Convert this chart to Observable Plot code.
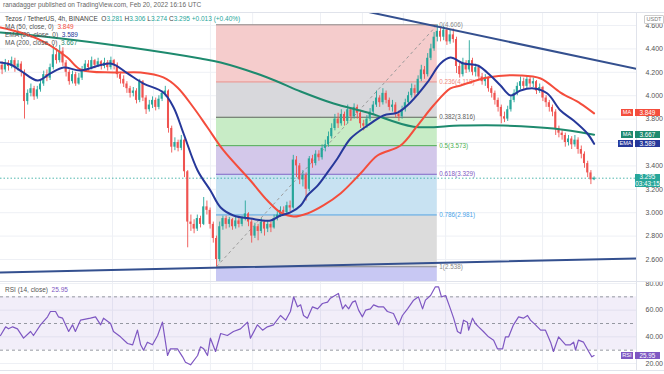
<!DOCTYPE html>
<html><head><meta charset="utf-8">
<script src="https://cdn.jsdelivr.net/npm/d3@7"></script>
<script src="https://cdn.jsdelivr.net/npm/@observablehq/plot@0.6"></script>
<style>
body{margin:0;background:#fff;font-family:"Liberation Sans",Arial,sans-serif;}
#wrap{position:relative;width:664px;height:374px;overflow:hidden;background:#fff;}
.t{position:absolute;white-space:nowrap;font-size:6.5px;line-height:8px;color:#555;}
.b{position:absolute;color:#fff;font-size:6.3px;text-align:center;line-height:7px;height:7px;white-space:nowrap;overflow:hidden;}
.pane{position:absolute;left:0;}
</style></head><body><div id="wrap"></div>
<script>
// ---------- data ----------
const firstOpen = 4.26;
const closes = [4.22,4.28,4.25,4.30,4.24,4.27,4.20,3.95,4.02,4.06,
3.99,4.05,4.10,4.18,4.15,4.24,4.35,4.30,4.38,4.28,
4.20,4.12,4.18,4.10,4.15,4.22,4.27,4.24,4.30,4.26,
4.29,4.25,4.28,4.24,4.30,4.26,4.18,4.14,4.10,4.06,
4.02,4.04,3.96,4.12,3.98,3.88,3.92,3.96,3.90,3.97,
4.02,4.04,3.72,3.56,3.60,3.55,3.62,3.35,2.92,2.90,
2.86,2.95,2.90,3.05,3.02,2.90,2.78,2.60,2.88,2.95,
2.90,2.94,2.88,2.93,2.90,2.95,2.99,2.92,2.80,2.88,
2.84,2.92,2.86,2.90,2.87,2.95,2.98,3.02,3.00,3.06,
3.04,3.45,3.40,3.28,3.32,3.20,3.46,3.42,3.50,3.47,
3.55,3.58,3.65,3.72,3.80,3.76,3.84,3.78,3.88,3.82,
3.90,3.85,3.76,3.74,3.80,3.86,3.92,3.98,3.94,4.02,
3.96,3.90,3.92,3.84,3.82,3.88,3.94,4.00,4.06,4.02,
4.14,4.22,4.18,4.32,4.40,4.50,4.55,4.50,4.56,4.46,
4.52,4.48,4.25,4.18,4.28,4.22,4.30,4.20,4.24,4.16,
4.12,4.15,4.06,4.02,3.96,3.90,3.82,3.80,3.88,3.96,
4.02,4.08,4.12,4.08,4.14,4.10,4.12,4.04,4.07,3.98,
3.94,3.90,3.86,3.72,3.68,3.66,3.60,3.63,3.58,3.62,
3.54,3.50,3.42,3.34,3.281,3.295];
const highs = [4.29,4.31,4.30,4.33,4.32,4.30,4.29,4.22,4.05,4.10,
4.08,4.08,4.13,4.21,4.22,4.27,4.43,4.40,4.43,4.41,
4.30,4.22,4.21,4.20,4.19,4.25,4.30,4.30,4.33,4.31,
4.32,4.30,4.32,4.30,4.33,4.31,4.28,4.20,4.17,4.12,
4.08,4.07,4.06,4.14,4.13,4.00,3.96,3.99,3.98,4.00,
4.04,4.08,4.05,3.74,3.64,3.62,3.66,3.63,3.36,2.98,
2.94,2.98,2.97,3.13,3.10,3.04,2.92,2.80,2.92,2.97,
2.97,2.96,2.95,2.96,2.95,2.97,3.10,3.00,2.94,2.91,
2.90,2.95,2.93,2.93,2.92,2.98,3.01,3.05,3.05,3.09,
3.10,3.49,3.48,3.42,3.36,3.34,3.48,3.49,3.53,3.53,
3.58,3.62,3.69,3.76,3.84,3.85,3.88,3.86,3.92,3.90,
3.93,3.92,3.87,3.79,3.83,3.89,3.95,4.04,4.00,4.06,
4.04,3.98,3.96,3.94,3.87,3.91,3.97,4.03,4.10,4.09,
4.17,4.26,4.25,4.36,4.44,4.54,4.606,4.58,4.59,4.58,
4.56,4.57,4.50,4.28,4.32,4.30,4.47,4.32,4.27,4.26,
4.19,4.18,4.16,4.08,4.04,3.98,3.92,3.86,3.91,3.99,
4.05,4.11,4.16,4.15,4.17,4.16,4.15,4.13,4.10,4.08,
4.00,3.96,3.92,3.88,3.74,3.71,3.68,3.66,3.65,3.66,
3.64,3.57,3.52,3.44,3.36,3.306];
const lows = [4.18,4.20,4.21,4.23,4.20,4.21,4.16,3.80,3.92,3.99,
3.96,3.97,4.03,4.08,4.12,4.13,4.22,4.27,4.28,4.25,
4.16,4.09,4.10,4.08,4.09,4.13,4.20,4.21,4.22,4.23,
4.24,4.22,4.23,4.21,4.22,4.22,4.15,4.10,4.07,4.02,
3.98,3.99,3.93,3.94,3.95,3.84,3.86,3.89,3.87,3.88,
3.95,3.99,3.68,3.51,3.53,3.52,3.53,3.30,2.70,2.84,
2.82,2.84,2.87,2.89,2.98,2.86,2.74,2.538,2.58,2.85,
2.86,2.87,2.85,2.86,2.87,2.88,2.93,2.88,2.74,2.78,
2.76,2.82,2.80,2.83,2.83,2.86,2.93,2.96,2.97,2.98,
3.01,3.03,3.30,3.24,3.22,3.10,3.18,3.38,3.40,3.44,
3.45,3.52,3.56,3.63,3.70,3.72,3.74,3.74,3.76,3.78,
3.80,3.80,3.72,3.70,3.72,3.78,3.84,3.90,3.90,3.92,
3.93,3.87,3.86,3.81,3.78,3.80,3.86,3.92,3.98,3.98,
4.00,4.12,4.14,4.16,4.30,4.38,4.46,4.46,4.47,4.43,
4.44,4.45,4.19,4.15,4.16,4.19,4.20,4.17,4.16,4.13,
4.09,4.08,4.03,3.98,3.92,3.86,3.76,3.77,3.78,3.86,
3.94,4.00,4.05,4.05,4.06,4.07,4.07,4.01,4.02,3.95,
3.90,3.86,3.82,3.66,3.64,3.62,3.56,3.57,3.54,3.56,
3.50,3.46,3.38,3.30,3.24,3.274];

// moving averages: [candle index, price]
const ma200 = [[-0.5,4.540],[12.9,4.506],[40.1,4.412],[62,4.318],[68.3,4.284],[82.9,4.156],[93.3,4.036],[103.6,3.933],[114.2,3.856],[128.6,3.735],[143.3,3.745],[156.7,3.745],[172.3,3.720],[185,3.667]];
const ma50 = [[-0.5,4.583],[5.75,4.540],[12.9,4.463],[20.4,4.326],[24.5,4.224],[34.8,4.198],[43.3,4.198],[50.4,4.156],[54.8,4.070],[59.8,3.899],[64.2,3.728],[69.2,3.532],[77.6,3.275],[82.9,3.104],[87,3.002],[91.1,2.967],[95.4,2.993],[100.4,3.062],[105.75,3.164],[112,3.335],[117.3,3.489],[124.5,3.574],[129.8,3.745],[134.8,3.916],[140.1,4.062],[143.3,4.087],[151.7,4.156],[162,4.173],[168.3,4.147],[174.5,4.027],[180.75,3.933],[185,3.849]];
const ema20 = [[-0.5,4.284],[2.6,4.267],[5.75,4.215],[11.1,4.130],[15.1,4.190],[19.2,4.241],[24.5,4.215],[33.9,4.275],[39.2,4.190],[44.2,4.104],[50.4,4.027],[53.6,3.899],[56.7,3.677],[61.1,3.361],[65.1,3.190],[68.3,3.044],[72.3,2.976],[77.6,2.950],[83.9,2.933],[87,2.976],[90.1,3.002],[93.3,3.062],[95.4,3.147],[98.6,3.232],[101.7,3.344],[104.8,3.463],[108.9,3.634],[114.2,3.745],[119.2,3.831],[123.6,3.856],[127.6,3.942],[132.9,4.113],[137,4.275],[140.1,4.326],[144.2,4.275],[148.6,4.258],[152.6,4.173],[155.75,4.087],[158.9,4.002],[162,4.044],[166.1,4.062],[170.4,4.019],[174.5,3.874],[178.6,3.788],[182.9,3.677],[185,3.589]];
const rsi = [[-0.5,41],[1.1,47.5],[2,46],[3.3,47.5],[4.8,46],[6.7,39],[8.9,44],[9.8,41],[12,49],[14.2,55],[15.1,59],[16.7,59],[17.6,55],[18.9,54],[20.8,44],[22,49],[22.9,44],[24.5,52.5],[27.6,54],[29.2,55],[30.8,49],[31.7,54],[33.9,50],[34.8,44],[37,40],[39.2,35],[40.8,34],[42.3,45],[43.3,34],[44.2,30],[45.4,36],[47,34],[48.6,41],[50.1,51],[51.7,26],[52.6,31],[54.8,31],[56.4,25],[57.3,21],[58.9,19],[61.1,26],[62,32.5],[63,31],[64.2,26],[65.1,39],[66.7,29],[68.3,42.5],[70.4,41],[72.3,44],[74.5,46],[76.7,51],[77.6,39],[79.8,49],[81.4,45],[82.9,47.5],[84.8,49],[87,56],[88.6,52.5],[90.1,59],[91.1,70],[92.3,62.5],[93.3,64],[94.2,56],[95.4,54],[97,62.5],[98.6,61],[100.1,65],[101.7,66],[102.6,69],[105.1,72.5],[106.4,61],[107.3,64],[108.3,61],[109.5,66],[110.4,67],[111.4,60],[112.6,55],[113.6,60],[115.1,61],[116.1,64],[117.6,62.5],[119.2,62.5],[120.4,59],[122.3,57.5],[123.9,49],[125.1,56],[126.7,61],[128.6,67.5],[130.1,70],[131.4,61],[132.3,67.5],[133.9,71],[135.4,77.5],[136.4,77.5],[137.3,70],[138.6,71],[140.1,61],[141.1,54],[142.3,44],[143.3,42.5],[144.2,52.5],[145.4,51],[145.8,45],[147,54],[147.9,50],[148.9,47.5],[150.4,44],[152,40],[153.6,37.5],[154.8,31],[156.4,31],[157.3,40],[158.3,40],[159.8,49],[161.4,55],[162.9,54],[164.2,56],[165.1,52.5],[166.7,49],[168.3,45],[169.8,45],[171.4,36],[172.3,29],[173.9,40],[176.1,34],[177.6,34],[178.6,36],[179.2,30],[180.1,37.5],[181.7,36],[183.3,29],[184.3,25],[185,25.95]];

// fibonacci retracement drawn from the low candle to the high candle
const fibLevels = ["0","0.236","0.382","0.5","0.618","0.786","1","1.618"];
const fibPrices = [4.606,4.118,3.816,3.573,3.329,2.981,2.538,1.260];
const fibStartIdx = 67, fibEndIdx = 136;
// trend lines: [candle index, price]
const upperTrend = [[100,4.80],[198.25,4.229]];
const lowerTrend = [[-0.5,2.489],[198.25,2.609]];

const priceTicks = [2.6,2.8,3.0,3.2,3.4,3.6,3.8,4.0,4.2,4.4,4.6];
const hiddenPriceLabels = [3.6]; // covered by the value tags in the picture
const rsiTicks = [20,40,60,80];
const rsiLevels = [70,50,30];
const gridIdx = [34.5,47.3,65.1,78.3,99.5,112.6,125.4,138.6,155.75,168.9,186.1];

const lastClose = 3.295, lastChange = "+0.013", lastChangePct = "(+0.40%)";
const lastMA50 = 3.849, lastMA200 = 3.667, lastEMA = 3.589, lastRSI = 25.95;
const countdown = "03:43:15";

// ---------- drawing ----------
const W = 664, PRICE_TOP = 13, PRICE_H = 268, RSI_TOP = 281, RSI_H = 89;
const xDomain = [-0.5, 198.25];
const up = "#26a69a", down = "#ef5350";
const font = "Liberation Sans, Arial, sans-serif";

const candles = closes.map((c, i) => ({i, open: i === 0 ? firstOpen : closes[i-1], close: c, high: highs[i], low: lows[i]}));
const col = d => d.close >= d.open ? up : down;

const bandFills = ["#f5cccc","#d8d8dc","#c8ecc6","#d3c8ea","#c8e2f2","#dcdcdc","#c8c8f3"];
const bands = bandFills.map((f, k) => ({top: fibPrices[k], bot: fibPrices[k+1], fill: f}));
const lineCols = ["#8a8a8a","#f28b82","#5d5d5d","#4caf50","#7e57c2","#4aa3e8","#8a8a8a"];
const fibLines = lineCols.map((c, k) => ({p: fibPrices[k], c, label: `${fibLevels[k]}(${fibPrices[k].toFixed(3)})`}));
const toObj = a => a.map(([i, v]) => ({i, v}));

const priceChart = Plot.plot({
  width: W, height: PRICE_H, marginLeft: 0, marginRight: 28, marginTop: 0, marginBottom: 0,
  x: {domain: xDomain, axis: null},
  y: {domain: [2.412, 4.7026], axis: null},
  style: {fontFamily: font, background: "transparent", overflow: "visible"},
  marks: [
    Plot.ruleY(priceTicks, {stroke: "#eef0f5"}),
    Plot.ruleX(gridIdx, {stroke: "#eef0f5"}),
    Plot.rect(bands, {x1: () => fibStartIdx, x2: () => fibEndIdx, y1: "top", y2: "bot", fill: "fill", clip: true}),
    Plot.ruleY(fibLines, {y: "p", x1: () => fibStartIdx, x2: () => fibEndIdx, stroke: "c", strokeWidth: 1}),
    Plot.text(fibLines, {x: () => fibEndIdx, y: "p", text: "label", dx: 2, textAnchor: "start", fill: "c", fontSize: 6.3}),
    Plot.link([0], {x1: () => fibStartIdx, y1: () => fibPrices[6], x2: () => fibEndIdx, y2: () => fibPrices[0], stroke: "#9a9a9a", strokeDasharray: "3,3"}),
    Plot.ruleY([lastClose], {stroke: up, strokeDasharray: "1.5,2", strokeOpacity: 0.8}),
    Plot.ruleX(candles, {x: "i", y1: "low", y2: "high", stroke: col, strokeWidth: 0.9}),
    Plot.rect(candles, {x1: d => d.i - 0.32, x2: d => d.i + 0.32, y1: "open", y2: "close", fill: col}),
    Plot.line(toObj(ma200), {x: "i", y: "v", stroke: "#1e8a6e", strokeWidth: 2, curve: "catmull-rom"}),
    Plot.line(toObj(ma50), {x: "i", y: "v", stroke: "#f44d3c", strokeWidth: 2, curve: "catmull-rom"}),
    Plot.line(toObj(ema20), {x: "i", y: "v", stroke: "#26389a", strokeWidth: 2, curve: "catmull-rom"}),
    Plot.line(toObj(upperTrend), {x: "i", y: "v", stroke: "#34508f", strokeWidth: 2, clip: true}),
    Plot.line(toObj(lowerTrend), {x: "i", y: "v", stroke: "#34508f", strokeWidth: 2, clip: true}),
    Plot.ruleX([xDomain[1]], {stroke: "#e0e3eb"}),
    Plot.axisY({anchor: "right", ticks: priceTicks.filter(t => !hiddenPriceLabels.includes(t)), tickFormat: d => d.toFixed(3), tickSize: 0, tickPadding: 9, fontSize: 7, fill: "#555", label: null})
  ]
});

const rsiChart = Plot.plot({
  width: W, height: RSI_H, marginLeft: 0, marginRight: 28, marginTop: 0, marginBottom: 0,
  x: {domain: xDomain, axis: null},
  y: {domain: [14.75, 81.5], axis: null},
  style: {fontFamily: font, background: "transparent", overflow: "visible"},
  marks: [
    Plot.ruleY(rsiTicks, {stroke: "#eef0f5"}),
    Plot.ruleX(gridIdx, {stroke: "#eef0f5"}),
    Plot.rect([0], {x1: () => xDomain[0], x2: () => xDomain[1], y1: () => rsiLevels[2], y2: () => rsiLevels[0], fill: "#7e57c2", fillOpacity: 0.1}),
    Plot.ruleY(rsiLevels, {stroke: "#9598a1", strokeDasharray: "3,3"}),
    Plot.line(toObj(rsi), {x: "i", y: "v", stroke: "#7e57c2", strokeWidth: 1.2}),
    Plot.ruleX([xDomain[1]], {stroke: "#e0e3eb"}),
    Plot.axisY({anchor: "right", ticks: rsiTicks, tickFormat: d => d.toFixed(2), tickSize: 0, tickPadding: 9, fontSize: 7, fill: "#555", label: null})
  ]
});

const wrap = document.getElementById("wrap");
function pane(el, top, h) {
  const d = document.createElement("div");
  d.className = "pane";
  d.style.top = top + "px"; d.style.height = h + "px"; d.style.width = W + "px";
  d.appendChild(el); wrap.appendChild(d);
}
pane(priceChart, PRICE_TOP, PRICE_H);
pane(rsiChart, RSI_TOP, RSI_H);
function hline(y) {
  const d = document.createElement("div");
  d.style.cssText = `position:absolute;left:0;top:${y}px;width:${W}px;height:1px;background:#e0e3eb;`;
  wrap.appendChild(d);
}
hline(PRICE_TOP - 1); hline(RSI_TOP); hline(370);

function txt(x, y, html, extra) {
  const d = document.createElement("div");
  d.className = "t";
  d.style.left = x + "px"; d.style.top = y + "px";
  if (extra) d.style.cssText += extra;
  d.innerHTML = html; wrap.appendChild(d);
}
txt(3, 1, "ranadagger published on TradingView.com, Feb 20, 2022 16:16 UTC", "color:#666;");
const last = candles[candles.length-1];
const tv = s => `<span style="color:${up}">${s}</span>`;
txt(5, 15, `Tezos / TetherUS, 4h, BINANCE&nbsp;&nbsp;O${tv(last.open.toFixed(3))} H${tv(last.high.toFixed(3))} L${tv(last.low.toFixed(3))} C${tv(last.close.toFixed(3))} ${tv(lastChange + " " + lastChangePct)}`, "color:#444;");
txt(5, 23, `MA (50, close, 0)&nbsp;&nbsp;<span style="color:#f44d3c">${lastMA50.toFixed(3)}</span>`);
txt(5, 31, `EMA (20, close, 0)&nbsp;&nbsp;<span style="color:#26389a">${lastEMA.toFixed(3)}</span>`);
txt(5, 39, `MA (200, close, 0)&nbsp;&nbsp;<span style="color:#1e8a6e">${lastMA200.toFixed(3)}</span>`);
txt(5, RSI_TOP + 5, `RSI (14, close)&nbsp;&nbsp;<span style="color:#7e57c2">${lastRSI.toFixed(2)}</span>`);

function box(x, y, w, h, bg, html, extra) {
  const d = document.createElement("div");
  d.className = "b";
  d.style.cssText += `left:${x}px;top:${y}px;width:${w}px;height:${h}px;background:${bg};` + (extra || "");
  d.innerHTML = html; wrap.appendChild(d);
}
const py = v => PRICE_TOP + priceChart.scale("y").apply(v);
const ry = v => RSI_TOP + rsiChart.scale("y").apply(v);
const tagW = {MA: 12, EMA: 15, RSI: 12};
function tag(v, name, bg, yfn) {
  const y = Math.round(yfn(v) - 3.5);
  box(633 - tagW[name], y, tagW[name], 7, bg, name, "font-size:5.6px;");
  box(635, y, 25, 7, bg, v.toFixed(name === "RSI" ? 2 : 3));
}
tag(lastMA50, "MA", "#f44d3c", py);
tag(lastMA200, "MA", "#1e8a6e", py);
tag(lastEMA, "EMA", "#26389a", py);
tag(lastRSI, "RSI", "#7e57c2", ry);
box(635, Math.round(py(lastClose) - 3.5), 25, 13, up, `${lastClose.toFixed(3)}<br>${countdown}`, "line-height:6.5px;");
box(644, 15, 18, 7, "#fff", "USDT", "color:#777;border:1px solid #ccc;font-size:5.5px;line-height:7px;border-radius:1px;");
</script></body></html>
